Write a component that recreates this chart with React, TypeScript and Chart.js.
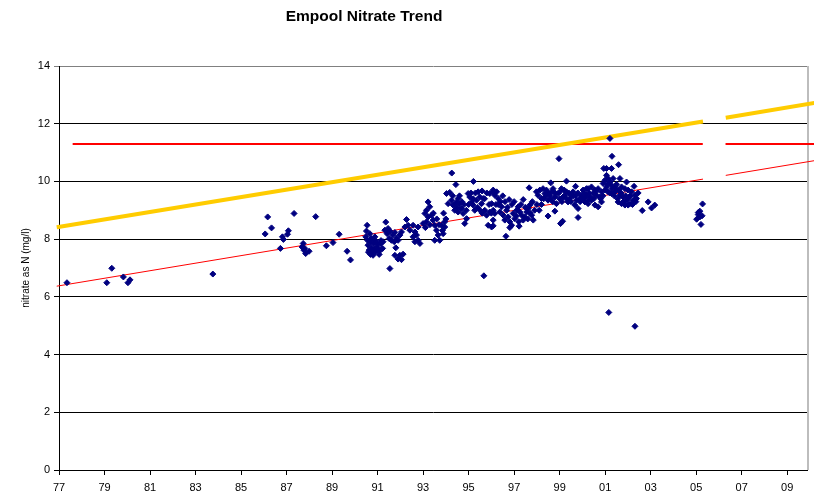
import React, { useEffect, useRef } from 'react';
import { Chart, registerables } from 'chart.js';

Chart.register(...registerables);

const chartTitle = 'Empool Nitrate Trend';
const yAxisTitle = 'nitrate as N (mg/l)';
const xTickValues = [1977, 1979, 1981, 1983, 1985, 1987, 1989, 1991, 1993, 1995, 1997, 1999, 2001, 2003, 2005, 2007, 2009];
const xTickLabels = ['77', '79', '81', '83', '85', '87', '89', '91', '93', '95', '97', '99', '01', '03', '05', '07', '09'];
const yTickValues = [0, 2, 4, 6, 8, 10, 12, 14];
const yTickLabels = ['0', '2', '4', '6', '8', '10', '12', '14'];

// Sample dates (decimal years) and measured nitrate as N (mg/l)
const sampleYears = [
  1977.35, 1979.10, 1979.32, 1979.83, 1980.03, 1980.12, 1983.76,
  1986.06, 1986.17, 1986.34, 1986.73, 1986.82, 1986.86, 1987.04, 1987.08, 1987.33, 1987.68, 1987.73, 1987.76, 1987.80, 1987.84, 1987.99,
  1988.28, 1988.75, 1989.04, 1989.31, 1989.66, 1989.81,
  1990.54, 1990.51, 1990.48, 1990.56, 1990.58, 1990.63, 1990.69, 1990.80, 1990.73, 1990.83, 1990.88, 1990.92, 1990.98, 1991.07,
  1991.13, 1991.22, 1991.24, 1990.73, 1990.66, 1991.02, 1991.36, 1991.32, 1991.42, 1991.54, 1991.66, 1991.76, 1991.83, 1991.73,
  1991.80, 1991.76, 1991.90, 1991.54, 1991.61, 1991.51, 1991.46, 1991.98, 1992.12, 1992.05, 1991.90, 1991.98, 1992.05, 1992.20,
  1992.27, 1992.34, 1992.42, 1992.56, 1992.56, 1992.64, 1992.64, 1992.71, 1992.78, 1992.86, 1992.78,
  1990.60, 1990.70, 1990.75, 1990.85, 1990.90, 1991.00, 1991.10, 1991.15,
  1993.00, 1993.15, 1993.08, 1993.15, 1993.22, 1993.29, 1993.22, 1993.37, 1993.44, 1993.51, 1993.59, 1993.66, 1993.73, 1993.51,
  1993.88, 1993.95, 1993.81, 1993.95,
  1993.10, 1993.30, 1993.45, 1993.60, 1993.70, 1993.85, 1993.90, 1994.00,
  1994.03, 1994.17, 1994.26, 1994.44, 1994.10, 1994.25, 1994.32, 1994.47, 1994.54, 1994.61, 1994.39, 1994.54, 1994.69, 1994.76,
  1994.83, 1994.91, 1994.98, 1995.05, 1995.13, 1995.20, 1995.27, 1995.35, 1995.21, 1995.42, 1995.49, 1995.57, 1995.64, 1995.59,
  1995.71, 1995.79, 1995.86, 1996.01, 1996.08, 1996.15, 1995.93, 1996.08, 1995.67,
  1994.30, 1994.40, 1994.50, 1994.60, 1994.70, 1994.80, 1994.90, 1995.00, 1995.10, 1995.20, 1995.30, 1995.40, 1995.50, 1995.60,
  1995.70, 1995.80, 1995.90, 1996.00, 1996.20,
  1996.08, 1996.23, 1996.15, 1996.30, 1996.01, 1996.08, 1995.93, 1996.37, 1996.45, 1996.52, 1996.59, 1996.67, 1996.74, 1996.81,
  1996.89, 1996.96, 1997.03, 1997.11, 1997.18, 1997.25, 1997.33, 1997.40, 1997.47, 1997.55, 1997.62, 1997.69, 1997.77, 1997.84,
  1996.78, 1996.64, 1997.40, 1997.66, 1997.98,
  1996.30, 1996.40, 1996.50, 1996.60, 1996.70, 1996.90, 1997.00, 1997.10, 1997.20, 1997.30, 1997.50, 1997.60, 1997.70, 1997.80,
  1997.90, 1998.00, 1998.10, 1998.20, 1998.30, 1998.40, 1998.50, 1998.60, 1998.70, 1998.80,
  1998.05, 1998.13, 1998.20, 1998.27, 1998.35, 1998.42, 1998.49, 1998.57, 1998.65, 1998.71, 1998.79, 1998.86, 1998.93,
  1999.01, 1999.08, 1999.15, 1999.23, 1999.30, 1999.37, 1999.45, 1999.52, 1999.59, 1999.67, 1999.74, 1999.81, 1999.89, 1999.96,
  2000.03, 2000.11, 2000.18, 2000.25,
  1999.00, 1999.10, 1999.20, 1999.30, 1999.40, 1999.50, 1999.60, 1999.70, 1999.80, 1999.90, 2000.00, 2000.10,
  1998.49, 1998.79, 1999.04, 1999.13, 1999.81, 1998.61, 1999.30, 1999.70, 1996.08, 1996.81, 1997.22, 1998.97,
  2000.25, 2000.40, 2000.55, 2000.69, 2000.84, 2000.18, 2000.33, 2000.47, 2000.62, 2000.77, 2000.11, 2000.25, 2000.40, 2000.55,
  2000.69, 2000.84,
  2000.30, 2000.50, 2000.60, 2000.80, 2000.90, 2001.00, 2001.10, 2001.20, 2001.30, 2001.40, 2001.50, 2001.55, 2001.60, 2001.70,
  2001.80, 2001.90, 2002.00, 2002.10, 2002.20, 2002.35, 2002.45,
  2000.94, 2001.06, 2001.28, 2001.21, 2001.30, 2001.59, 2001.06, 2001.13, 2000.99, 2001.21, 2001.35, 2001.65, 2001.94, 2000.91,
  2001.06, 2001.28, 2001.43, 2001.50, 2001.72, 2001.87, 2002.01, 2002.27, 2002.16, 2002.31, 2002.38, 2002.23, 2002.09, 2001.94,
  2001.79, 2001.65, 2001.57, 2001.72, 2001.87, 2002.01, 2001.43, 2001.28, 2001.13,
  2002.63, 2002.89, 2003.04, 2003.18, 2001.16, 2002.31,
  2005.02, 2005.09, 2005.16, 2005.21, 2005.28, 2005.26, 2005.09, 2005.16,
];
const nitrateValues = [
  6.49, 6.49, 6.99, 6.69, 6.49, 6.59, 6.79,
  8.18, 8.77, 8.39, 7.68, 8.08, 7.99, 8.17, 8.29, 8.89, 7.73, 7.85, 7.62, 7.68, 7.50, 7.58,
  8.78, 7.77, 7.88, 8.17, 7.58, 7.28,
  8.48, 8.28, 8.08, 7.96, 7.79, 7.62, 7.47, 7.44, 7.70, 7.85, 8.08, 7.56, 7.73, 7.47,
  7.85, 7.68, 7.91, 8.02, 8.19, 7.62, 8.59, 8.31, 8.19, 8.28, 8.14, 8.23, 8.04, 7.91,
  7.70, 7.44, 7.31, 6.98, 7.96, 8.02, 8.37, 7.44, 7.48, 7.29, 7.96, 8.14, 8.25, 8.42,
  8.68, 8.48, 8.31, 8.48, 8.08, 8.25, 7.91, 8.14, 7.96, 7.85, 8.42,
  7.55, 7.90, 7.55, 7.65, 7.95, 7.85, 7.60, 7.95,
  8.54, 8.60, 8.89, 9.00, 9.29, 9.12, 8.77, 8.83, 8.66, 8.48, 8.31, 8.14, 7.96, 7.96,
  8.19, 8.42, 8.48, 8.60,
  8.40, 8.50, 8.90, 8.70, 8.50, 8.30, 8.90, 8.70,
  9.58, 9.62, 10.29, 9.89, 9.23, 9.35, 9.18, 9.29, 9.41, 9.23, 9.00, 8.94, 9.06, 8.89,
  8.54, 8.71, 9.58, 9.46, 9.29, 9.18, 9.00, 9.35, 10.00, 9.64, 9.46, 9.23, 9.41, 9.67,
  9.00, 8.83, 8.48, 8.42, 8.66, 8.89, 9.58, 9.64, 6.73,
  9.50, 9.20, 9.10, 9.50, 9.30, 9.20, 9.00, 9.20, 9.60, 9.40, 9.60, 9.10, 9.00, 8.90,
  9.40, 9.60, 9.20, 8.90, 9.20,
  9.70, 9.64, 9.52, 9.41, 9.23, 9.00, 8.94, 8.94, 9.12, 8.83, 8.66, 9.00, 8.77, 8.60,
  8.48, 8.89, 8.71, 9.00, 9.12, 8.94, 8.83, 8.66, 8.77, 8.94, 9.06, 9.18, 8.83, 8.66,
  9.37, 8.10, 9.37, 9.78, 9.64,
  9.20, 9.30, 9.50, 9.30, 9.10, 9.20, 9.30, 8.80, 8.60, 9.20, 9.10, 8.70, 8.90, 9.30,
  9.00, 9.20, 9.00, 9.20, 9.40, 9.50, 9.60, 9.40, 9.30, 9.60,
  9.52, 9.70, 9.41, 9.75, 9.58, 9.70, 9.35, 9.52, 9.64, 9.75, 9.46, 9.23, 9.58,
  9.64, 9.75, 9.46, 9.52, 9.64, 9.29, 9.41, 9.52, 9.64, 9.18, 9.35, 9.06, 9.41, 9.52,
  9.70, 9.58, 9.75, 9.35,
  9.40, 9.30, 9.70, 9.40, 9.60, 9.30, 9.50, 9.50, 9.60, 9.30, 9.40, 9.45,
  8.80, 8.97, 8.54, 8.62, 8.75, 9.95, 10.01, 9.83, 8.46, 8.40, 8.45, 10.79,
  9.75, 9.81, 9.70, 9.75, 9.64, 9.52, 9.46, 9.58, 9.52, 9.46, 9.29, 9.23, 9.35, 9.18,
  9.12, 9.29,
  9.60, 9.40, 9.65, 9.40, 9.50, 9.70, 9.90, 9.60, 9.75, 9.50, 9.90, 9.40, 9.70, 9.60,
  9.30, 9.50, 9.40, 9.50, 9.20, 9.30, 9.60,
  10.45, 10.45, 10.45, 11.49, 10.87, 10.58, 10.21, 10.10, 10.04, 9.98, 10.10, 10.10, 9.98, 9.93,
  9.81, 9.87, 9.81, 9.70, 9.81, 9.75, 9.70, 9.83, 9.64, 9.52, 9.41, 9.35, 9.23, 9.35,
  9.46, 9.52, 9.29, 9.23, 9.18, 9.18, 9.64, 9.58, 9.64,
  8.99, 9.29, 9.08, 9.18, 5.46, 4.98,
  8.69, 8.92, 8.77, 8.51, 9.22, 8.81, 8.85, 8.97,
];

// Limit line (11.3 mg/l N) with a gap
const limitYears = [1977.6, 2005.29, 2005.8, 2006.29, 2010.2];
const limitValues = [11.3, 11.3, null, 11.3, 11.3];
// Linear trend and upper trend lines
const trendYears = [1976.9, 2005.3, 2005.8, 2006.3, 2010.2];
const trendValues = [6.37, 10.08, null, 10.21, 10.72];
const upperTrendValues = [8.41, 12.08, null, 12.21, 12.72];

const FONT = 'Arial, "Liberation Sans", Helvetica, sans-serif';

const toPoints = (xs: number[], ys: (number | null)[]) => xs.map((x, i) => ({ x, y: ys[i] }));

export default function App() {
  const ref = useRef<HTMLCanvasElement>(null);

  useEffect(() => {
    const canvas = ref.current;
    if (!canvas) return;

    const titlePlugin = {
      id: 'excelTitle',
      afterDraw(chart: any) {
        const ctx = chart.ctx;
        ctx.save();
        ctx.font = `bold 15.5px ${FONT}`;
        ctx.fillStyle = '#000';
        ctx.textAlign = 'center';
        ctx.textBaseline = 'alphabetic';
        ctx.fillText(chartTitle, 364, 20.5);
        ctx.restore();
      },
    };
    const borderPlugin = {
      id: 'rightBorder',
      beforeDatasetsDraw(chart: any) {
        const { ctx, chartArea } = chart;
        ctx.save();
        ctx.strokeStyle = '#bdbdbd';
        ctx.lineWidth = 2;
        ctx.beginPath();
        ctx.moveTo(chartArea.right + 1, chartArea.top);
        ctx.lineTo(chartArea.right + 1, chartArea.bottom);
        ctx.stroke();
        ctx.restore();
      },
    };

    const lineClip = { left: 6, top: 0, right: 10, bottom: 0 };

    const chart = new Chart(canvas, {
      type: 'scatter',
      data: {
        datasets: [
          {
            label: 'Nitrate',
            data: toPoints(sampleYears, nitrateValues),
            pointStyle: 'rectRot',
            pointRadius: 3,
            pointBorderWidth: 1,
            backgroundColor: '#000080',
            borderColor: '#000080',
            showLine: false,
            order: 0,
          },
          {
            label: 'Upper trend',
            data: toPoints(trendYears, upperTrendValues),
            showLine: true,
            spanGaps: false,
            borderColor: '#FFCC00',
            borderWidth: 4,
            pointRadius: 0,
            clip: lineClip,
            order: 1,
          },
          {
            label: 'Limit',
            data: toPoints(limitYears, limitValues),
            showLine: true,
            spanGaps: false,
            borderColor: '#FF0000',
            borderWidth: 2,
            pointRadius: 0,
            clip: lineClip,
            order: 2,
          },
          {
            label: 'Trend',
            data: toPoints(trendYears, trendValues),
            showLine: true,
            spanGaps: false,
            borderColor: '#FF0000',
            borderWidth: 1,
            pointRadius: 0,
            clip: lineClip,
            order: 3,
          },
        ] as any,
      },
      options: {
        animation: false,
        responsive: false,
        devicePixelRatio: 1,
        layout: { padding: { top: 66, right: 7, bottom: 0, left: 0 } },
        plugins: {
          legend: { display: false },
          title: { display: false },
          tooltip: { enabled: false },
        },
        scales: {
          x: {
            type: 'linear',
            min: 1977,
            max: 2009.87,
            afterFit: (scale: any) => { scale.height = 25; },
            afterBuildTicks: (scale: any) => { scale.ticks = xTickValues.map((v) => ({ value: v })); },
            ticks: {
              autoSkip: false,
              maxRotation: 0,
              padding: 6,
              color: '#000',
              font: { family: FONT, size: 11 },
              callback: (v: any) => xTickLabels[xTickValues.indexOf(Number(v))] ?? '',
            },
            grid: { drawOnChartArea: false, drawTicks: true, tickLength: 5, color: '#000' },
            border: { display: true, color: '#000', width: 1 },
          },
          y: {
            type: 'linear',
            min: 0,
            max: 14,
            afterFit: (scale: any) => { scale.width = 59; },
            afterBuildTicks: (scale: any) => { scale.ticks = yTickValues.map((v) => ({ value: v })); },
            ticks: {
              padding: 4,
              color: '#000',
              font: { family: FONT, size: 11 },
              callback: (v: any) => yTickLabels[yTickValues.indexOf(Number(v))] ?? '',
            },
            grid: {
              drawTicks: true,
              tickLength: 5,
              color: (ctx: any) => (ctx.tick && ctx.tick.value === 14 ? '#808080' : '#000'),
            },
            border: { display: true, color: '#000', width: 1 },
            title: {
              display: true,
              text: yAxisTitle,
              color: '#000',
              font: { family: FONT, size: 10 },
              padding: { top: 20, bottom: 0 },
            },
          },
        },
      },
      plugins: [titlePlugin, borderPlugin],
    } as any);

    return () => chart.destroy();
  }, []);

  return (
    <div style={{ position: 'absolute', left: 0, top: 0, width: 814, height: 495, background: '#fff' }}>
      <canvas ref={ref} width={814} height={495} style={{ display: 'block', width: 814, height: 495 }} />
    </div>
  );
}
